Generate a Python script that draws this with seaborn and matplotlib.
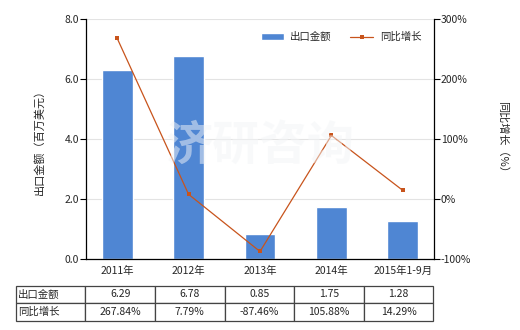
import matplotlib
matplotlib.use("Agg")
import matplotlib.pyplot as plt
import seaborn as sns
import pandas as pd
import numpy as np

categories = ["2011年", "2012年", "2013年", "2014年", "2015年1-9月"]
export_values = [6.29, 6.78, 0.85, 1.75, 1.28]
growth_values = [267.84, 7.79, -87.46, 105.88, 14.29]
export_labels = ["6.29", "6.78", "0.85", "1.75", "1.28"]
growth_labels = ["267.84%", "7.79%", "-87.46%", "105.88%", "14.29%"]
row_names = ["出口金额", "同比增长"]
left_ticks = [0.0, 2.0, 4.0, 6.0, 8.0]
right_ticks = [-100, 0, 100, 200, 300]

sns.set_theme(style="white")
plt.rcParams['font.family'] = ['Noto Sans CJK SC', 'DejaVu Sans']
plt.rcParams['axes.unicode_minus'] = False

bar_color = "#4f86d3"
line_color = "#c8541c"

fig = plt.figure(figsize=(5.2, 3.3), dpi=100)
ax = fig.add_axes([86/520, 1-259/330, 348/520, 240/330])

df = pd.DataFrame({"cat": categories, "val": export_values, "g": growth_values})
sns.barplot(data=df, x="cat", y="val", color=bar_color, width=0.43, ax=ax,
            saturation=1, label="出口金额")
if ax.get_legend() is not None:
    ax.get_legend().remove()
ax.set_ylim(0, 8)
ax.set_yticks(left_ticks)
ax.set_yticklabels([f"{t:.1f}" for t in left_ticks], fontsize=7.5)
ax.yaxis.grid(True, color="#e3e3e3", linewidth=0.8)
ax.set_axisbelow(True)
ax.set_xlabel("")
ax.set_ylabel("出口金额（百万美元）", fontsize=8, labelpad=14)
ax.tick_params(axis="x", labelsize=7.5, length=0, pad=5)
ax.tick_params(axis="y", length=4, width=0.8, color="black", direction="out", left=True, pad=1)
for s in ["left", "bottom"]:
    ax.spines[s].set_color("black")
    ax.spines[s].set_linewidth(0.9)
ax.spines["top"].set_visible(False)
ax.spines["right"].set_visible(False)

ax2 = ax.twinx()
sns.lineplot(data=df, x="cat", y="g", color=line_color, marker="s", markersize=3.5,
             markeredgewidth=0, linewidth=0.9, ax=ax2, label="同比增长", legend=False)
ax2.set_ylim(-100, 300)
ax2.set_yticks(right_ticks)
ax2.set_yticklabels([f"{t}%" for t in right_ticks], fontsize=7.5)
ax2.set_ylabel("同比增长（%）", fontsize=8, rotation=270, labelpad=26)
ax2.tick_params(axis="y", length=4, width=0.8, color="black", direction="out", right=True, pad=1)
ax2.spines["right"].set_color("black")
ax2.spines["right"].set_linewidth(0.9)
for s in ["top", "left", "bottom"]:
    ax2.spines[s].set_visible(False)
ax2.grid(False)
ax2.set_xlabel("")

# faint watermark
fig.text(0.5, 0.56, "济研咨询", fontsize=34, color="#f3f5f7", ha="center", va="center",
         alpha=0.5, zorder=0, fontweight="bold")

h1, l1 = ax.get_legend_handles_labels()
h2, l2 = ax2.get_legend_handles_labels()
ax2.legend(h1[:1] + h2[:1], ["出口金额", "同比增长"], loc="upper right", bbox_to_anchor=(0.99, 0.985),
           ncol=2, frameon=False, fontsize=7.5, handlelength=2.2, columnspacing=1.8,
           handletextpad=0.6)

cell_text = [[row_names[0]] + export_labels, [row_names[1]] + growth_labels]
tbl = ax.table(cellText=cell_text, cellLoc="center",
               bbox=[(15.7-86)/348, (259-321)/240, (433.5-15.7)/348, (321-285.5)/240])
tbl.auto_set_font_size(False)
tbl.set_fontsize(7.5)
for (r, c), cell in tbl.get_celld().items():
    cell.set_edgecolor("#444444")
    cell.set_linewidth(0.9)
    cell.set_facecolor("white")
    if c == 0:
        cell.get_text().set_ha("left")
        cell.PAD = 0.03

fig.savefig("out.png", dpi=100)
